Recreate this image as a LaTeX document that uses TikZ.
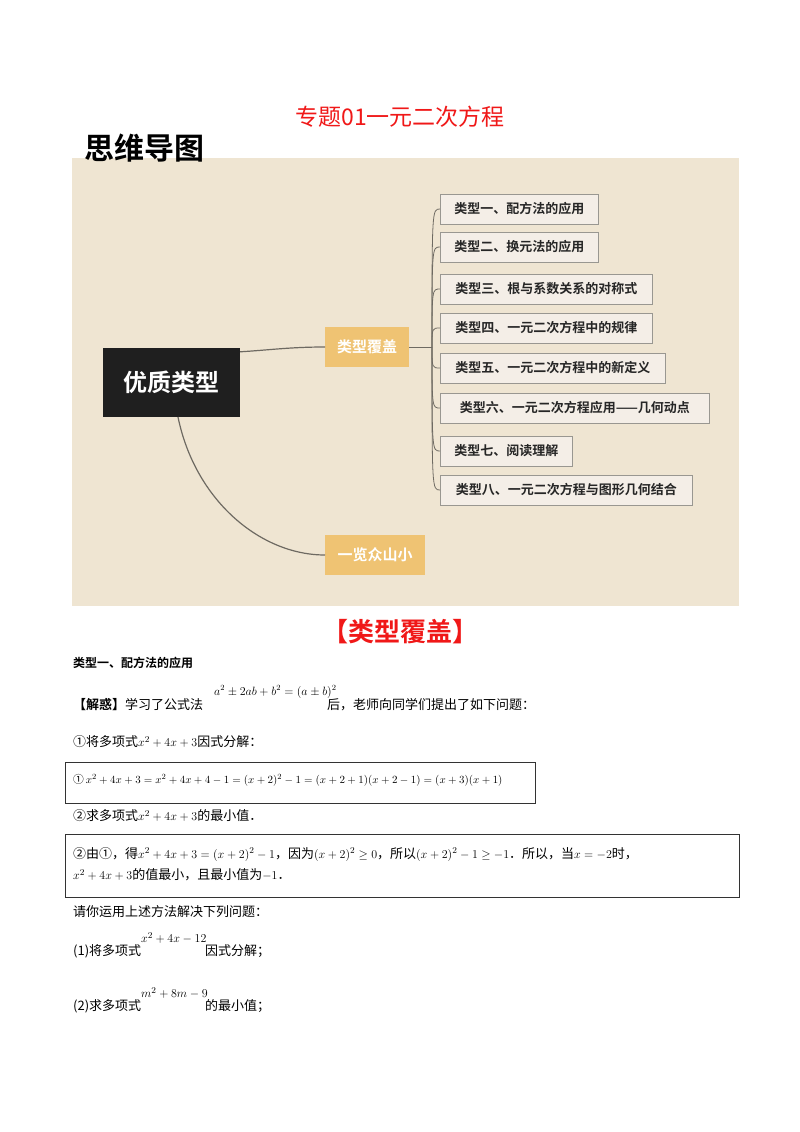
\documentclass[tikz,border=0pt]{standalone}
\usepackage{fontspec}
\newfontfamily\cjk{Noto Sans CJK SC}
\newfontfamily\cjkb{Noto Sans CJK SC Bold}
\usepackage{amsmath,amssymb}
\definecolor{bg}{HTML}{EFE5D2}
\definecolor{gold}{HTML}{EFC373}
\definecolor{leaf}{HTML}{F4EEE7}
\definecolor{red1}{HTML}{F01818}
\definecolor{ln}{HTML}{6E6A62}
\tikzset{
 leafbox/.style={draw=ln!70,line width=0.8pt,fill=leaf,anchor=west,minimum height=30pt,inner xsep=10pt,font=\cjkb\fontsize{13}{15}\selectfont,text=black!85},
 goldbox/.style={fill=gold,text=white,font=\cjkb\fontsize{15}{17}\selectfont,minimum height=40pt,anchor=west},
 br/.style={draw=ln,line width=0.8pt},
 txt/.style={anchor=west,inner sep=0pt,font=\cjk\fontsize{13}{15}\selectfont},
 frm/.style={draw=black!80,line width=1pt},
}
\begin{document}
\begin{tikzpicture}[x=1pt,y=-1pt]
\useasboundingbox (0,0) rectangle (800,1132);
\fill[white] (0,0) rectangle (800,1132);
\node[text=red1,font=\cjk\fontsize{23}{25}\selectfont] (title) at (400,117) {专题01一元二次方程};
\fill[bg] (72,158) rectangle (739,606);
\node[anchor=west,inner sep=0pt,font=\cjkb\fontsize{30}{32}\selectfont] (mm) at (84,148) {思维导图};
\node[fill=black!88,text=white,font=\cjkb\fontsize{24}{26}\selectfont,minimum width=137pt,minimum height=69pt] (root) at (171.5,382.5) {优质类型};
\node[goldbox,minimum width=84pt] (cov) at (325,347) {类型覆盖};
\node[goldbox,minimum width=100pt] (yl) at (325,555) {一览众山小};
\draw[br,line width=1.2pt] (root.north east)+(0,4) .. controls (270,350) and (290,347) .. (cov.west);
\draw[br,line width=1.2pt] (178,417) .. controls (195,500) and (260,555) .. (yl.west);
\coordinate (hub) at (432,347);
\draw[br] (cov.east) -- (hub);
\foreach \n/\y/\w/\t in {a/209/158/类型一、配方法的应用,b/247/158/类型二、换元法的应用,c/289/212/类型三、根与系数关系的对称式,d/328/212/类型四、一元二次方程中的规律,e/368/225/类型五、一元二次方程中的新定义,f/408/269/类型六、一元二次方程应用——几何动点,g/451/132/类型七、阅读理解,h/490/252/类型八、一元二次方程与图形几何结合}{
 \node[leafbox,minimum width=\w pt] (\n) at (440,\y) {\t};
 \draw[br] (hub) .. controls (432,\y) and (432,\y) .. (\n.west);
}
\node[text=red1,font=\cjkb\fontsize{26}{28}\selectfont] (hd) at (400,632) {【类型覆盖】};
\node[txt,font=\cjkb\fontsize{12}{14}\selectfont] (t1) at (73,663) {类型一、配方法的应用};
\node[txt] (t2) at (73,705) {\cjkb【解惑】\cjk 学习了公式法};
\node[txt,font=\fontsize{12}{14}\selectfont] (f1) at (214,692) {$a^2\pm2ab+b^2=(a\pm b)^2$};
\node[txt] (t3) at (327,705) {后，老师向同学们提出了如下问题：};
\node[txt] (t4) at (73,742) {①将多项式$x^2+4x+3$因式分解：};
\draw[frm] (65,762) rectangle (535,803);
\node[txt,font=\cjk\fontsize{10.8}{14}\selectfont] (t5) at (73,780) {①\,$x^2+4x+3=x^2+4x+4-1=(x+2)^2-1=(x+2+1)(x+2-1)=(x+3)(x+1)$};
\node[txt] (t6) at (73,816) {②求多项式$x^2+4x+3$的最小值．};
\draw[frm] (65,834) rectangle (739,897);
\node[txt] (t7) at (73,854) {②由①，得$x^2+4x+3=(x+2)^2-1$，因为$(x+2)^2\geq0$，所以$(x+2)^2-1\geq-1$．所以，当$x=-2$时，};
\node[txt] (t8) at (73,875) {$x^2+4x+3$的值最小，且最小值为$-1$．};
\node[txt] (t9) at (73,912) {请你运用上述方法解决下列问题：};
\node[txt] (t10) at (73,951) {(1)将多项式};
\node[txt] (f2) at (141,938) {$x^2+4x-12$};
\node[txt] (t11) at (205,951) {因式分解；};
\node[txt] (t12) at (73,1006) {(2)求多项式};
\node[txt] (f3) at (141,993) {$m^2+8m-9$};
\node[txt] (t13) at (205,1006) {的最小值；};
\end{tikzpicture}
\end{document}
